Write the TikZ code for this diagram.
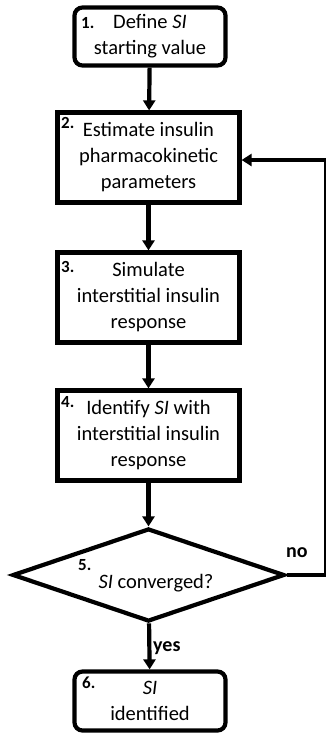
\documentclass[tikz,border=0pt]{standalone}
\usepackage{fontspec}
\setmainfont{Carlito}
\usetikzlibrary{arrows.meta,shapes.geometric}
\begin{document}
\begin{tikzpicture}[x=1pt,y=-1pt,
  box/.style={draw, line width=4.2pt, align=center, font=\fontsize{20.5}{26}\selectfont, inner sep=0pt},
  rbox/.style={box, rounded corners=8pt},
  txt/.style={align=center, font=\fontsize{20.5}{26}\selectfont, inner sep=0pt},
  num/.style={font=\fontsize{17}{17}\selectfont\bfseries, anchor=north west, inner sep=0pt},
  lab/.style={font=\fontsize{20}{20}\selectfont\bfseries, anchor=base west, inner sep=0pt},
  flow/.style={line width=4.2pt, -{Triangle[length=10pt,width=12pt]}},
  ]
\useasboundingbox (0,0) rectangle (325,736);
\node[rbox, minimum width=151pt, minimum height=58pt] (b1) at (150,36.5) {Define \textit{SI}\\starting value};
\node[box, minimum width=182pt, minimum height=90pt] (b2) at (148.5,157.5) {Estimate insulin\\pharmacokinetic\\parameters};
\node[box, minimum width=182pt, minimum height=90pt] (b3) at (148.5,297.5) {Simulate\\interstitial insulin\\response};
\node[box, minimum width=182pt, minimum height=90pt] (b4) at (148.5,435.5) {Identify \textit{SI} with\\interstitial insulin\\response};
\node[draw, shape=diamond, line width=4.2pt, minimum width=272pt, minimum height=93pt, inner sep=0pt] (d5) at (148.5,575) {};
\node[txt] (t5) at (156,583) {\textit{SI} converged?};
\node[rbox, minimum width=151pt, minimum height=59pt] (b6) at (150,701) {\textit{SI}\\identified};

\node[num] (n1) at (81,17) {1.};
\node[num] (n2) at (61,117) {2.};
\node[num] (n3) at (61,261) {3.};
\node[num] (n4) at (61,396) {4.};
\node[num] (n5) at (78,559) {5.};
\node[num] (n6) at (82,677) {6.};

\draw[flow] (b1) -- (b2);
\draw[flow] (b2) -- (b3);
\draw[flow] (b3) -- (b4);
\draw[flow] (b4) -- (d5);
\draw[flow] (d5) -- (b6);

\coordinate (fr) at (326,575);
\coordinate (ft) at (326,160);
\draw[flow] (d5.east) -- (fr) -- (ft) -- (ft -| b2.east);

\node[lab] (no) at (286,557) {no};
\node[lab] (yes) at (153,651) {yes};
\end{tikzpicture}
\end{document}
